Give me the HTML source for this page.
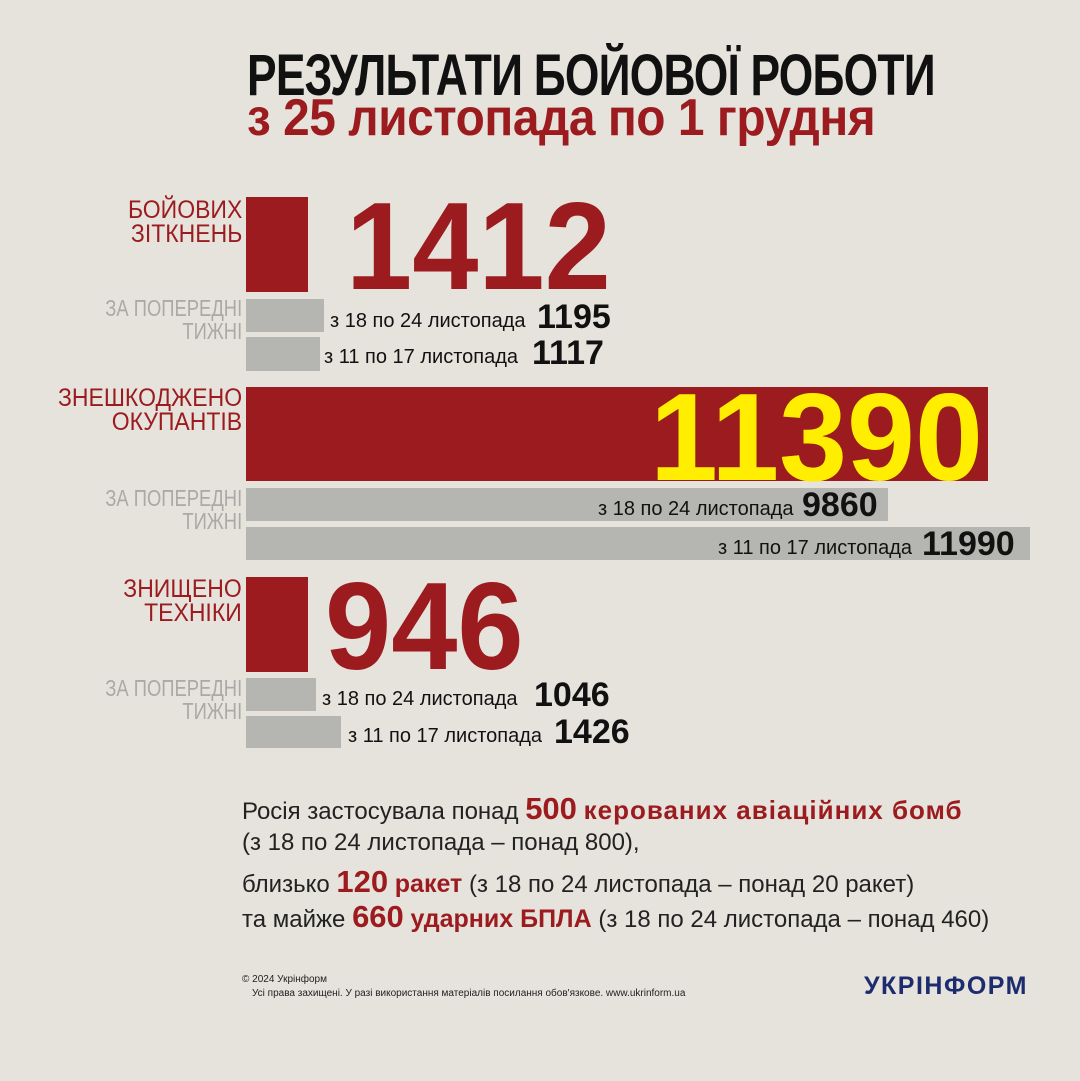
<!DOCTYPE html>
<html><head><meta charset="utf-8"><style>
body{margin:0;width:1080px;height:1081px;background:#e6e3dc;position:relative;overflow:hidden;font-family:"Liberation Sans",sans-serif;}
.a{position:absolute;white-space:nowrap;transform-origin:left top;}
.red{background:#9b1b1f;position:absolute;}
.gray{background:#b5b5b1;position:absolute;}
.lab{position:absolute;right:838px;text-align:right;font-size:25px;line-height:24px;transform-origin:right top;}
.lr{color:#9b1b1f;transform:scaleX(0.92);}
.lg{color:#a9a9a6;font-size:23px;line-height:23px;transform:scaleX(0.8);}
.s{font-size:20px;color:#111;}
.n{font-weight:bold;font-size:34px;color:#111;}
.big{font-weight:bold;color:#9b1b1f;font-size:124px;line-height:1;}
.bt{font-size:24px;color:#222;left:242px;}
.bt b{color:#9b1b1f;}
</style></head><body>
<div class="a" style="left:247px;top:42px;font-size:58px;font-weight:bold;color:#111;letter-spacing:-1px;transform:scaleX(0.765);">РЕЗУЛЬТАТИ БОЙОВОЇ РОБОТИ</div>
<div class="a" style="left:247px;top:88px;font-size:52px;font-weight:bold;color:#9b1b1f;letter-spacing:-0.5px;transform:scaleX(0.92);">з 25 листопада по 1 грудня</div>

<div class="lab lr" style="top:198px;">БОЙОВИХ<br>ЗІТКНЕНЬ</div>
<div class="red" style="left:246px;top:197px;width:62px;height:95px;"></div>
<div class="a big" style="left:346px;top:185px;transform:scaleX(0.96);">1412</div>
<div class="lab lg" style="top:297px;">ЗА ПОПЕРЕДНІ<br>ТИЖНІ</div>
<div class="gray" style="left:246px;top:299px;width:78px;height:33px;"></div>
<div class="gray" style="left:246px;top:337px;width:74px;height:34px;"></div>
<div class="a s" style="left:330px;top:310px;">з 18 по 24 листопада</div>
<div class="a n" style="left:537px;top:298px;">1195</div>
<div class="a s" style="left:324px;top:346px;">з 11 по 17 листопада</div>
<div class="a n" style="left:532px;top:334px;">1117</div>

<div class="lab lr" style="top:386px;">ЗНЕШКОДЖЕНО<br>ОКУПАНТІВ</div>
<div class="red" style="left:246px;top:387px;width:742px;height:94px;"></div>
<div class="a big" style="left:650px;top:376px;color:#ffee00;transform:scaleX(0.985);">11390</div>
<div class="lab lg" style="top:487px;">ЗА ПОПЕРЕДНІ<br>ТИЖНІ</div>
<div class="gray" style="left:246px;top:488px;width:642px;height:33px;"></div>
<div class="gray" style="left:246px;top:527px;width:784px;height:33px;"></div>
<div class="a s" style="left:598px;top:498px;">з 18 по 24 листопада</div>
<div class="a n" style="left:802px;top:486px;">9860</div>
<div class="a s" style="left:718px;top:537px;">з 11 по 17 листопада</div>
<div class="a n" style="left:922px;top:525px;">11990</div>

<div class="lab lr" style="top:577px;">ЗНИЩЕНО<br>ТЕХНІКИ</div>
<div class="red" style="left:246px;top:577px;width:62px;height:95px;"></div>
<div class="a big" style="left:325px;top:565px;transform:scaleX(0.96);">946</div>
<div class="lab lg" style="top:677px;">ЗА ПОПЕРЕДНІ<br>ТИЖНІ</div>
<div class="gray" style="left:246px;top:678px;width:70px;height:33px;"></div>
<div class="gray" style="left:246px;top:716px;width:95px;height:32px;"></div>
<div class="a s" style="left:322px;top:688px;">з 18 по 24 листопада</div>
<div class="a n" style="left:534px;top:676px;">1046</div>
<div class="a s" style="left:348px;top:725px;">з 11 по 17 листопада</div>
<div class="a n" style="left:554px;top:713px;">1426</div>

<div class="a bt" style="top:791px;">Росія застосувала понад <b style="font-size:31px">500</b> <b style="font-size:26px;letter-spacing:1px">керованих авіаційних бомб</b></div>
<div class="a bt" style="top:829px;">(з 18 по 24 листопада – понад 800),</div>
<div class="a bt" style="top:864px;">близько <b style="font-size:31px">120</b> <b style="font-size:25px">ракет</b> (з 18 по 24 листопада – понад 20 ракет)</div>
<div class="a bt" style="top:899px;">та майже <b style="font-size:31px">660</b> <b style="font-size:25px">ударних БПЛА</b> (з 18 по 24 листопада – понад 460)</div>

<div class="a" style="left:242px;top:974px;font-size:10px;color:#222;">© 2024 Укрінформ</div>
<div class="a" style="left:252px;top:988px;font-size:10px;color:#222;">Усі права захищені. У разі використання матеріалів посилання обов'язкове. www.ukrinform.ua</div>
<div class="a" style="left:864px;top:972px;font-size:25px;font-weight:bold;color:#1c2c6e;letter-spacing:1.5px;">УКРІНФОРМ</div>
</body></html>
